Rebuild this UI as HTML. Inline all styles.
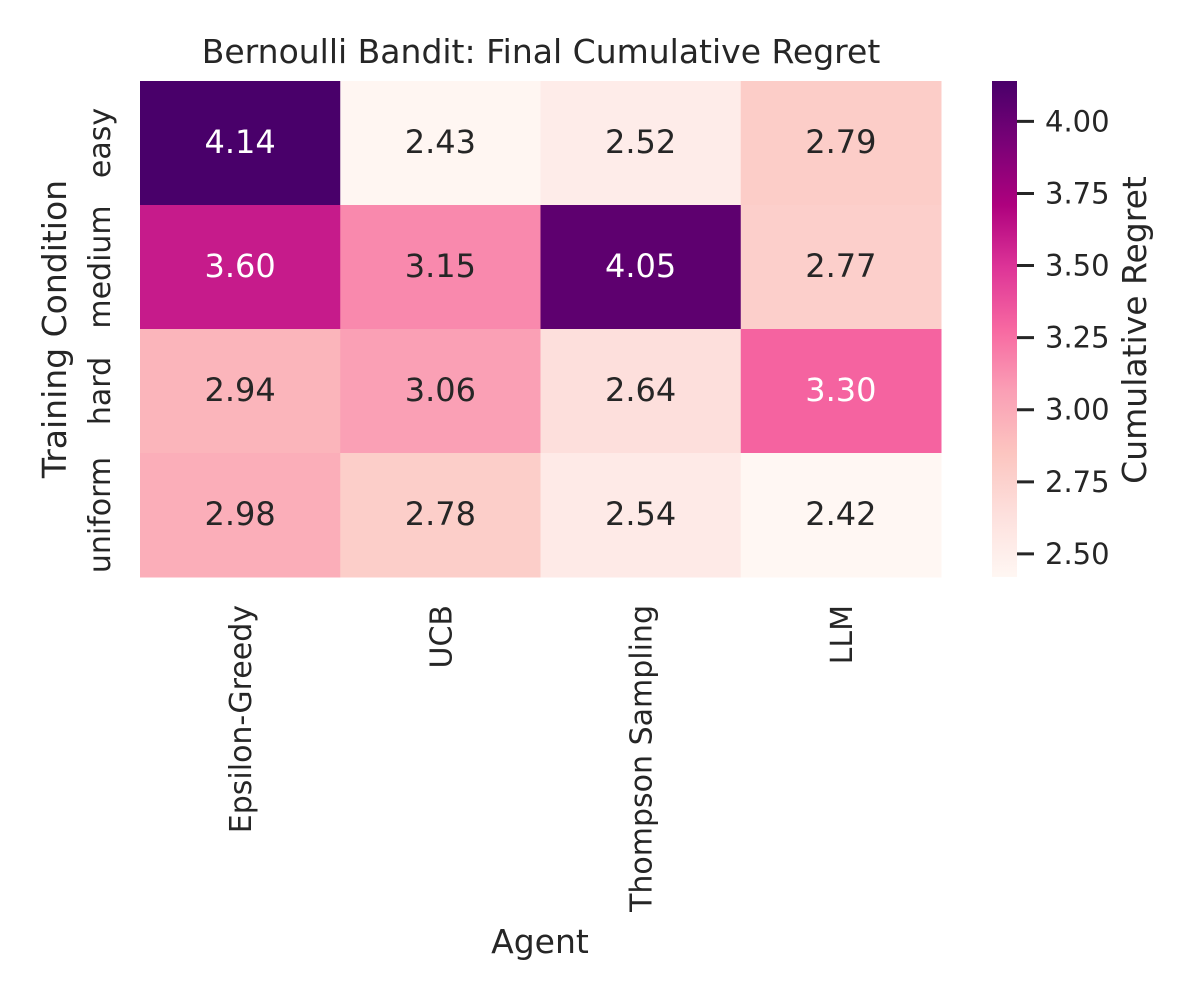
<!DOCTYPE html>
<html><head><meta charset="utf-8"><style>
body{margin:0;background:#fff}
svg text{font-family:"DejaVu Sans","Liberation Sans",sans-serif;fill:#262626}
</style></head><body>
<svg id="chart" width="1200" height="1000" viewBox="0 0 1200 1000" xmlns="http://www.w3.org/2000/svg">
<defs>
<linearGradient id="cbgrad" x1="0" y1="1" x2="0" y2="0">
<stop offset="0" stop-color="#fff7f3"/><stop offset="0.125" stop-color="#fde0dd"/>
<stop offset="0.25" stop-color="#fcc5c0"/><stop offset="0.375" stop-color="#fa9fb5"/>
<stop offset="0.5" stop-color="#f768a1"/><stop offset="0.625" stop-color="#dd3497"/>
<stop offset="0.75" stop-color="#ae017e"/><stop offset="0.875" stop-color="#7a0177"/>
<stop offset="1" stop-color="#49006a"/></linearGradient>
</defs>
<text x="541" y="63" font-size="33" text-anchor="middle">Bernoulli Bandit: Final Cumulative Regret</text>
<g id="cells"></g>
<g id="xticks"></g>
<g id="yticks"></g>
<text x="540" y="953" font-size="33" text-anchor="middle">Agent</text>
<text transform="translate(66,329) rotate(-90)" font-size="33" text-anchor="middle">Training Condition</text>
<rect x="992" y="81" width="25" height="496" fill="url(#cbgrad)"/>
<g id="cbticks"></g>
<text transform="translate(1146,330) rotate(-90)" font-size="33" text-anchor="middle">Cumulative Regret</text>
</svg>
<script>
const agents=["Epsilon-Greedy","UCB","Thompson Sampling","LLM"];
const conditions=["easy","medium","hard","uniform"];
const rowEasy=[4.14,2.43,2.52,2.79];
const rowMedium=[3.60,3.15,4.05,2.77];
const rowHard=[2.94,3.06,2.64,3.30];
const rowUniform=[2.98,2.78,2.54,2.42];
const cbTicks=[2.50,2.75,3.00,3.25,3.50,3.75,4.00];
const values=[rowEasy,rowMedium,rowHard,rowUniform];
const NS="http://www.w3.org/2000/svg";
const X0=140,X1=941,Y0=81,Y1=577;
const cw=(X1-X0)/agents.length, ch=(Y1-Y0)/conditions.length;
const all=values.flat(); const vmin=Math.min(...all), vmax=Math.max(...all);
const stops=["#fff7f3","#fde0dd","#fcc5c0","#fa9fb5","#f768a1","#dd3497","#ae017e","#7a0177","#49006a"].map(h=>[1,3,5].map(i=>parseInt(h.substr(i,2),16)));
function color(v){let t=(v-vmin)/(vmax-vmin);t=Math.max(0,Math.min(1,t));const p=t*8,i=Math.min(7,Math.floor(p)),f=p-i;
 const c=stops[i].map((a,k)=>Math.round(a+(stops[i+1][k]-a)*f));return {s:`rgb(${c})`,l:(0.299*c[0]+0.587*c[1]+0.114*c[2])/255};}
function mk(tag,attrs,parent){const e=document.createElementNS(NS,tag);for(const k in attrs)e.setAttribute(k,attrs[k]);parent.appendChild(e);return e;}
const cells=document.getElementById('cells');
values.forEach((row,r)=>row.forEach((v,c)=>{
 const col=color(v);
 const rect=mk('rect',{x:X0+c*cw,y:Y0+r*ch,width:cw+0.5,height:ch+0.5,fill:col.s},cells);
 
 
 const t=mk('text',{x:X0+(c+0.5)*cw,y:Y0+(r+0.5)*ch+10,'font-size':32,'text-anchor':'middle'},cells);
 t.style.fill=col.l<0.65?'#ffffff':'#262626';
 t.textContent=v.toFixed(2);
 
 
}));
const xt=document.getElementById('xticks');
agents.forEach((a,i)=>{const x=X0+(i+0.5)*cw;
 const t=mk('text',{transform:`translate(${x+11},${Y1+28}) rotate(-90)`,'font-size':30,'text-anchor':'end'},xt);
 t.textContent=a;
 
 });
const yt=document.getElementById('yticks');
conditions.forEach((c,i)=>{const y=Y0+(i+0.5)*ch;
 const t=mk('text',{transform:`translate(${X0-30},${y}) rotate(-90)`,'font-size':30,'text-anchor':'middle'},yt);
 t.textContent=c;
 
 });
const cb=document.getElementById('cbticks');
cbTicks.forEach(v=>{const y=Y1-(v-vmin)/(vmax-vmin)*(Y1-Y0);
 const l=mk('line',{x1:1017,x2:1034,y1:y,y2:y,stroke:'#262626','stroke-width':3},cb);
 
 
 const t=mk('text',{x:1045,y:y+10,'font-size':29},cb);
 t.textContent=v.toFixed(2);
 
 });
</script>
</body></html>
